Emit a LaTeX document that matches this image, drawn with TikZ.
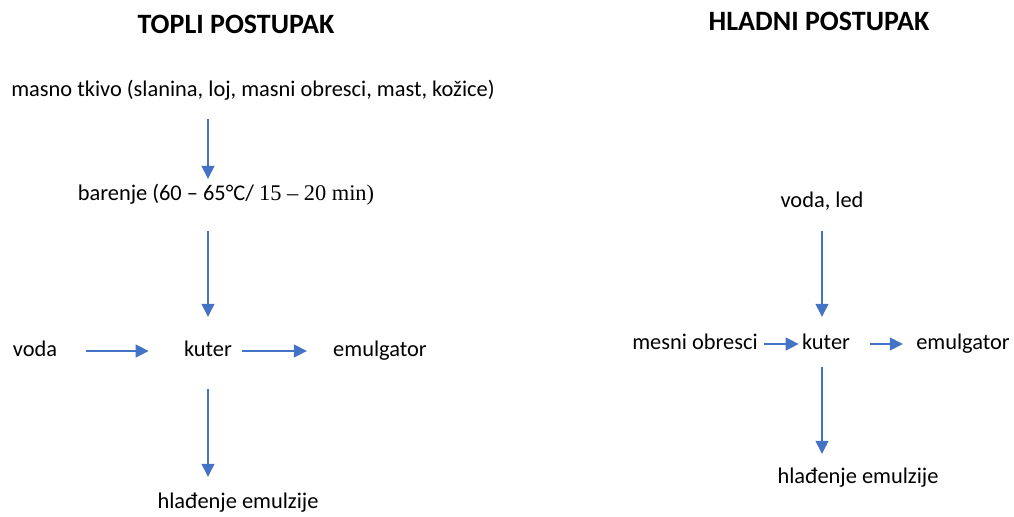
\documentclass[tikz,border=0pt]{standalone}
\usepackage{fontspec}
\setmainfont{Carlito}
\newfontfamily\serifpart{Liberation Serif}
\usetikzlibrary{arrows.meta}

\begin{document}
\begin{tikzpicture}[
    x=0.5pt, y=-0.5pt,
    step text/.style={inner sep=0pt, font=\fontsize{11.2}{13}\selectfont,
        text height=7.5pt, text depth=2.3pt},
    title/.style={inner sep=0pt, font=\fontsize{14}{16}\selectfont\bfseries},
    flow/.style={draw={rgb,255:red,68;green,114;blue,196}, line width=0.65pt,
        -{Triangle[length=6.5pt,width=6.5pt]}},
    every node/.style={color=black}
    ]

\useasboundingbox (0,0) rectangle (1014,516);

% topli postupak
\node[title] (topli) at (236,24) {TOPLI POSTUPAK};
\node[step text] (masno) at (253,91)
    {masno tkivo (slanina, loj, masni obresci, mast, kožice)};
\node[step text] (barenje) at (226,195)
    {barenje (60 – 65°C/ {\serifpart 15 – 20 min)}};
\node[step text] (voda) at (35,351) {voda};
\node[step text] (kuter) at (208,351) {kuter};
\node[step text] (emulgator) at (380,351) {emulgator};
\node[step text] (hladenje) at (238,503) {hlađenje emulzije};

\draw[flow, shorten <=9pt, shorten >=3pt]
    (masno.south -| kuter) -- (barenje.north -| kuter);
\draw[flow, shorten <=13pt, shorten >=12pt]
    (barenje.south -| kuter) -- (kuter.north);
\draw[flow, shorten <=14pt, shorten >=17.5pt] (voda.east) -- (kuter.west);
\draw[flow, shorten <=5pt, shorten >=13pt] (kuter.east) -- (emulgator.west);
\draw[flow, shorten <=14pt, shorten >=8pt]
    (kuter.south) -- (hladenje.north -| kuter);

% hladni postupak
\node[title] (hladni) at (819,21) {HLADNI POSTUPAK};
\node[step text] (vodaled) at (822,202) {voda, led};
\node[step text] (mesni) at (695,344) {mesni obresci};
\node[step text] (kuter2) at (826,344) {kuter};
\node[step text] (emulgator2) at (963,344) {emulgator};
\node[step text] (hladenje2) at (858,478) {hlađenje emulzije};

\draw[flow, shorten <=9.5pt, shorten >=8.5pt]
    (vodaled.south) -- (kuter2.north -| vodaled);
\draw[flow, shorten <=3pt, shorten >=1.5pt] (mesni.east) -- (kuter2.west);
\draw[flow, shorten <=10pt, shorten >=6.5pt] (kuter2.east) -- (emulgator2.west);
\draw[flow, shorten <=6.5pt, shorten >=7pt]
    (kuter2.south -| vodaled) -- (hladenje2.north -| vodaled);

\end{tikzpicture}
\end{document}
